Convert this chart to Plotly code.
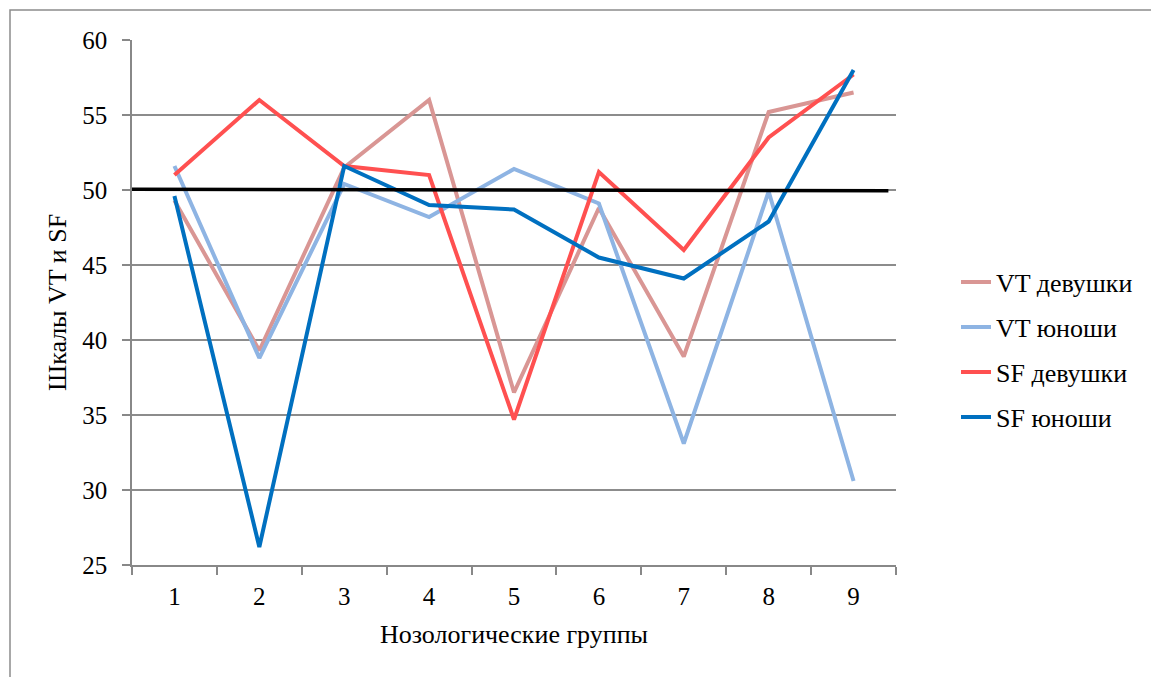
import plotly.graph_objects as go

categories = ["1", "2", "3", "4", "5", "6", "7", "8", "9"]
vt_girls = [49.3, 39.3, 51.5, 56.0, 36.5, 48.8, 38.9, 55.2, 56.5]
vt_boys = [51.6, 38.8, 50.4, 48.2, 51.4, 49.1, 33.1, 49.9, 30.6]
sf_girls = [51.0, 56.0, 51.6, 51.0, 34.7, 51.2, 46.0, 53.5, 57.7]
sf_boys = [49.6, 26.2, 51.6, 49.0, 48.7, 45.5, 44.1, 47.9, 58.0]
norm_line = [50.05, 49.95]  # reference line at start / end

series_names = ["VT девушки", "VT юноши", "SF девушки", "SF юноши"]
series_vals = [vt_girls, vt_boys, sf_girls, sf_boys]
colors = ["#D99694", "#8EB4E3", "#FF5050", "#0070C0"]

FONT = "Liberation Serif, Times New Roman, serif"

W, H = 1151, 677
L, R, T, B = 132, 1151 - 896, 40, 677 - 565
pw, ph = W - L - R, H - T - B

def px_x(p):
    return (p - L) / pw

def px_y(p):
    return (H - B - p) / ph

fig = go.Figure()
legend_ids = ["legend", "legend2", "legend3", "legend4"]
for name, vals, c, lg in zip(series_names, series_vals, colors, legend_ids):
    fig.add_trace(go.Scatter(
        x=categories, y=vals, mode="lines", name=name,
        line=dict(color=c, width=4), legend=lg,
    ))

layout_legends = {}
centers = [282, 327, 372, 417]
for lg, cy in zip(legend_ids, centers):
    layout_legends[lg] = dict(
        x=px_x(956), y=px_y(cy), xanchor="left", yanchor="middle",
        font=dict(family=FONT, size=26, color="black"),
        bgcolor="rgba(0,0,0,0)", itemwidth=30, borderwidth=0,
    )

fig.update_layout(
    width=W, height=H,
    margin=dict(l=L, r=R, t=T, b=B),
    paper_bgcolor="white", plot_bgcolor="white",
    showlegend=True,
    font=dict(family=FONT, size=25, color="black"),
    xaxis=dict(
        type="category", tickson="boundaries", ticks="outside", ticklen=8,
        tickcolor="#888888", tickwidth=1.5, showline=True, linecolor="#888888",
        linewidth=1.5, showgrid=False, range=[-0.5, 8.5],
        ticklabelstandoff=8,
        tickfont=dict(family=FONT, size=25, color="black"),
        title=dict(text="Нозологические группы", standoff=16,
                   font=dict(family=FONT, size=26, color="black")),
    ),
    yaxis=dict(
        range=[25, 60], dtick=5, tick0=25, ticks="outside", ticklen=8,
        tickcolor="#888888", tickwidth=1.5, showline=True, linecolor="#888888",
        linewidth=1.5, showgrid=True, gridcolor="#8c8c8c", gridwidth=1.5,
        zeroline=False, ticklabelstandoff=10,
        tickfont=dict(family=FONT, size=25, color="black"),
        title=dict(text="Шкалы VT и SF", standoff=8,
                   font=dict(family=FONT, size=26, color="black")),
    ),
    **layout_legends,
)

# reference line
fig.add_shape(type="line", xref="x", yref="y", x0=-0.5, x1=8.41,
              y0=norm_line[0], y1=norm_line[1],
              line=dict(color="black", width=3.5), layer="above")

# outer chart border
fig.add_shape(type="rect", xref="paper", yref="paper",
              x0=px_x(10), x1=px_x(1200), y0=px_y(10), y1=px_y(720),
              line=dict(color="#8c8c8c", width=1.5), fillcolor="rgba(0,0,0,0)",
              layer="below")

fig.write_html("out.html", config={"displayModeBar": False},
               post_script="document.body.style.margin='0px';")
